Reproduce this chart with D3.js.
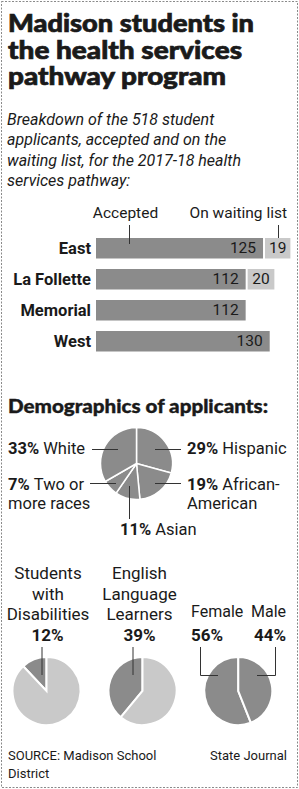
<!DOCTYPE html>
<html>
<head>
<meta charset="utf-8">
<script src="https://cdn.jsdelivr.net/npm/d3@7"></script>
<style>
  body { margin: 0; background: #fff; }
  text { font-family: Roboto, "Open Sans", sans-serif; fill: #1a1a1a; }
  .heavy { font-family: Lato, Roboto, sans-serif; font-weight: 900; }
</style>
</head>
<body>
<div id="chart"></div>
<script>
// bar data
var schools = ["East", "La Follette", "Memorial", "West"];
var accepted = [125, 112, 112, 130];
var waiting = [19, 20, 0, 0];

// race / ethnicity pie, clockwise from 12 o'clock
var raceLabels = ["Hispanic", "African-American", "Asian", "Two or more races", "White"];
var raceValues = [29, 19, 11, 7, 33];

// small pies
var smallTitles = [["Students", "with", "Disabilities"], ["English", "Language", "Learners"]];
var smallValues = [12, 39];
var genderLabels = ["Female", "Male"];
var genderValues = [56, 44];

var width = 299, height = 789;
var dark = "#8b8b8b", light = "#c9c9c9", ink = "#1a1a1a", rule = "#333";

var svg = d3.select("#chart").append("svg")
    .attr("width", width)
    .attr("height", height);

// dashed frame
svg.append("rect")
    .attr("x", 1.5).attr("y", 1.5)
    .attr("width", 296).attr("height", 786)
    .attr("fill", "none")
    .attr("stroke", "#8a8a8a")
    .attr("stroke-dasharray", "2,1.5");

function line(x1, y1, x2, y2) {
    svg.append("line")
        .attr("x1", x1).attr("y1", y1).attr("x2", x2).attr("y2", y2)
        .attr("stroke", rule).attr("stroke-width", 1);
}

// title
var titleW = [246, 234, 218];
["Madison students in", "the health services", "pathway program"].forEach(function (t, i) {
    svg.append("text")
        .attr("class", "heavy")
        .attr("x", 8).attr("y", 32 + i * 26.5)
        .attr("textLength", titleW[i])
        .attr("lengthAdjust", "spacingAndGlyphs")
        .style("font-size", "24px")
        .style("stroke", ink).style("stroke-width", 0.7)
        .text(t);
});

// subtitle
["Breakdown of the 518 student", "applicants, accepted and on the",
 "waiting list, for the 2017-18 health", "services pathway:"].forEach(function (t, i) {
    svg.append("text")
        .attr("x", 7).attr("y", 125 + i * 20.3)
        .style("font-size", "16px").style("font-style", "italic")
        .text(t);
});

// bars
var x = d3.scaleLinear().domain([0, 130]).range([96, 269.7]);
var y = d3.scaleBand().domain(schools).range([238, 351.5]).paddingInner(0.339);

var rows = svg.selectAll(".row")
    .data(schools)
    .enter().append("g")
    .attr("class", "row")
    .attr("transform", function (d) { return "translate(0," + y(d) + ")"; });

rows.append("rect")
    .attr("x", x(0))
    .attr("width", function (d, i) { return x(accepted[i]) - x(0); })
    .attr("height", y.bandwidth())
    .attr("fill", dark);

rows.filter(function (d, i) { return waiting[i] > 0; })
    .append("rect")
    .attr("x", function (d) { var i = schools.indexOf(d); return x(accepted[i]) + 2; })
    .attr("width", function (d) { var i = schools.indexOf(d); return x(waiting[i]) - x(0); })
    .attr("height", y.bandwidth())
    .attr("fill", light);

rows.append("text")
    .attr("x", function (d, i) { return x(accepted[i]) - 7; })
    .attr("y", y.bandwidth() / 2 + 5)
    .attr("text-anchor", "end")
    .style("font-size", "15.5px")
    .text(function (d, i) { return accepted[i]; });

rows.filter(function (d, i) { return waiting[i] > 0; })
    .append("text")
    .attr("x", function (d) { var i = schools.indexOf(d); return x(accepted[i]) + 2 + (x(waiting[i]) - x(0)) / 2; })
    .attr("y", y.bandwidth() / 2 + 5)
    .attr("text-anchor", "middle")
    .style("font-size", "15.5px")
    .text(function (d) { return waiting[schools.indexOf(d)]; });

rows.append("text")
    .attr("x", 91)
    .attr("y", y.bandwidth() / 2 + 5.5)
    .attr("text-anchor", "end")
    .style("font-size", "16.5px").style("font-weight", 700)
    .text(function (d) { return d; });

// bar legend
svg.append("text").attr("x", 125.5).attr("y", 218).attr("text-anchor", "middle")
    .style("font-size", "15.5px").text("Accepted");
svg.append("text").attr("x", 287).attr("y", 218).attr("text-anchor", "end")
    .style("font-size", "15.5px").text("On waiting list");
line(129.5, 225, 129.5, 244);
line(278.5, 225, 278.5, 238);

// demographics
svg.append("text")
    .attr("class", "heavy")
    .attr("x", 8).attr("y", 413)
    .attr("textLength", 260)
    .attr("lengthAdjust", "spacingAndGlyphs")
    .style("font-size", "19.5px")
    .style("stroke", ink).style("stroke-width", 0.4)
    .text("Demographics of applicants:");

var pie = d3.pie().sort(null);
var raceArc = d3.arc().innerRadius(0).outerRadius(36);

svg.append("g")
    .attr("transform", "translate(136.5,463.5)")
    .selectAll("path")
    .data(pie(raceValues))
    .enter().append("path")
    .attr("d", raceArc)
    .attr("fill", dark)
    .attr("stroke", "#fff")
    .attr("stroke-width", 1.5);

function label(xp, yp, lines, anchor) {
    var t = svg.append("text")
        .attr("x", xp).attr("y", yp)
        .attr("text-anchor", anchor || "start")
        .style("font-size", "16.5px");
    lines.forEach(function (l, i) {
        var ts = t.append("tspan").attr("x", xp).attr("dy", i === 0 ? 0 : 18.5);
        if (l[0]) ts.append("tspan").style("font-weight", 700).text(l[0] + " ");
        ts.append("tspan").text(l[1]);
    });
}

label(8, 454, [[raceValues[4] + "%", "White"]]);
label(187, 454, [[raceValues[0] + "%", "Hispanic"]]);
label(8, 490, [[raceValues[3] + "%", "Two or"], [null, "more races"]]);
label(187, 490, [[raceValues[1] + "%", "African-"], [null, "American"]]);
label(120, 535, [[raceValues[2] + "%", "Asian"]]);
line(92, 449.5, 118, 449.5);
line(155, 449.5, 181, 449.5);
line(90, 483.5, 116, 483.5);
line(155, 483.5, 181, 483.5);
line(129.5, 486, 129.5, 519);

// small pies
var smallArc = d3.arc().innerRadius(0).outerRadius(34);
var smallX = [46.5, 142.5];

smallValues.forEach(function (v, k) {
    var cx = smallX[k];
    var p = d3.pie().sort(null)
        .startAngle(-2 * Math.PI * v / 100)
        .endAngle(2 * Math.PI - 2 * Math.PI * v / 100);
    svg.append("g")
        .attr("transform", "translate(" + cx + ",691)")
        .selectAll("path")
        .data(p([v, 100 - v]))
        .enter().append("path")
        .attr("d", smallArc)
        .attr("fill", function (d, i) { return i === 0 ? dark : light; })
        .attr("stroke", "#fff")
        .attr("stroke-width", 2);

    smallTitles[k].forEach(function (t, i) {
        svg.append("text")
            .attr("x", cx + (k === 0 ? 1.5 : -3)).attr("y", 579 + i * 20.5)
            .attr("text-anchor", "middle")
            .style("font-size", "17px")
            .text(t);
    });
    svg.append("text")
        .attr("x", cx + (k === 0 ? 1 : -3)).attr("y", 641)
        .attr("text-anchor", "middle")
        .style("font-size", "17px").style("font-weight", 700)
        .text(v + "%");
    line(cx - (k === 0 ? 4.5 : 9.5), 647, cx - (k === 0 ? 4.5 : 9.5), 675);
});

// gender pie
var gp = d3.pie().sort(null)
    .startAngle(-2 * Math.PI * genderValues[0] / 100)
    .endAngle(2 * Math.PI - 2 * Math.PI * genderValues[0] / 100);
svg.append("g")
    .attr("transform", "translate(238.3,691)")
    .selectAll("path")
    .data(gp(genderValues))
    .enter().append("path")
    .attr("d", smallArc)
    .attr("fill", dark)
    .attr("stroke", "#fff")
    .attr("stroke-width", 2);

svg.append("text").attr("x", 191).attr("y", 617).style("font-size", "16px").text(genderLabels[0]);
svg.append("text").attr("x", 191).attr("y", 641).style("font-size", "17px").style("font-weight", 700).text(genderValues[0] + "%");
svg.append("text").attr("x", 286).attr("y", 617).attr("text-anchor", "end").style("font-size", "16px").text(genderLabels[1]);
svg.append("text").attr("x", 286).attr("y", 641).attr("text-anchor", "end").style("font-size", "17px").style("font-weight", 700).text(genderValues[1] + "%");

svg.append("path").attr("d", "M200.5,647V675.5H218").attr("fill", "none").attr("stroke", rule);
svg.append("path").attr("d", "M275.5,647V675.5H257").attr("fill", "none").attr("stroke", rule);

// source
svg.append("text").attr("x", 8).attr("y", 760).style("font-size", "13px").text("SOURCE: Madison School");
svg.append("text").attr("x", 8).attr("y", 778).style("font-size", "13px").text("District");
svg.append("text").attr("x", 287).attr("y", 760).attr("text-anchor", "end").style("font-size", "13px").text("State Journal");
</script>
</body>
</html>
